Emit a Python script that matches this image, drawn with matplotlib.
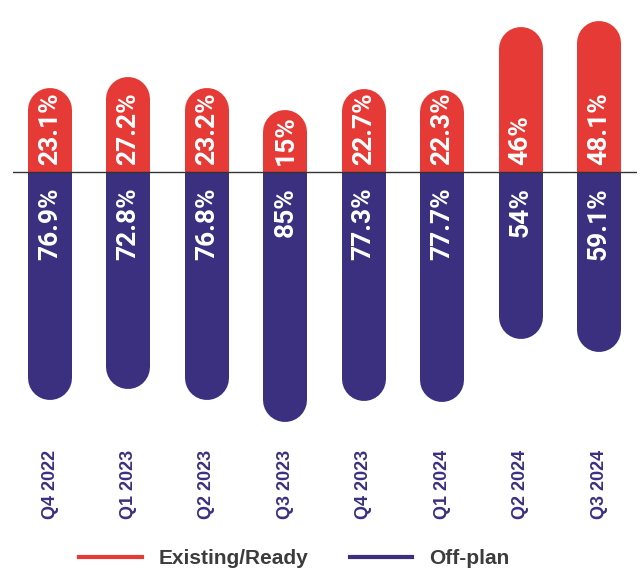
import matplotlib
matplotlib.use("Agg")
import matplotlib.pyplot as plt
from matplotlib.lines import Line2D

# Data
quarters = ["Q4 2022", "Q1 2023", "Q2 2023", "Q3 2023",
            "Q4 2023", "Q1 2024", "Q2 2024", "Q3 2024"]
existing = [23.1, 27.2, 23.2, 15, 22.7, 22.3, 46, 48.1]
offplan = [76.9, 72.8, 76.8, 85, 77.3, 77.7, 54, 59.1]

red = "#E63A37"
purple = "#3B3080"
label_font = ["Roboto", "DejaVu Sans"]

fig = plt.figure(figsize=(6.4, 5.72), dpi=100)
ax = fig.add_axes([13 / 640, 132 / 572, 624 / 640, 440 / 572])

scale = 2.68  # px per percentage point
ax.set_xlim(-0.472, 7.484)
ax.set_ylim(-(440 - 172) / scale, 172 / scale)

bar_lw = 44 * 0.72  # bar width in points


def palkki(x, y, color):
    # suora osa + pyöristetty pää
    ax.plot([x, x], [0, y], color=color, lw=bar_lw, solid_capstyle="butt", zorder=2)
    ax.plot([x, x], [y * 0.6, y], color=color, lw=bar_lw, solid_capstyle="round", zorder=2)


# punaiset ensin, violetit päälle
for i in range(len(quarters)):
    palkki(i, existing[i], red)
for i in range(len(quarters)):
    palkki(i, -offplan[i], purple)

for i in range(len(quarters)):
    ax.annotate(f"{existing[i]:g}%", xy=(i, 0), xytext=(0, 5), textcoords="offset points",
                rotation=90, ha="center", va="bottom", color="white", fontsize=19,
                fontweight="bold", family=label_font, zorder=4)
    ax.annotate(f"{offplan[i]:g}%", xy=(i, 0), xytext=(0, -11), textcoords="offset points",
                rotation=90, ha="center", va="top", color="white", fontsize=19,
                fontweight="bold", family=label_font, zorder=4)

ax.axhline(0, color="#333333", lw=1, zorder=3)

ax.set_xticks(range(len(quarters)))
ax.set_xticklabels(quarters, rotation=90, color=purple, fontsize=13,
                   fontweight="bold", family="Liberation Sans")
ax.tick_params(axis="x", length=0, pad=7)
ax.set_yticks([])
for s in ax.spines.values():
    s.set_visible(False)

handles = [Line2D([0], [0], color=red, lw=3),
           Line2D([0], [0], color=purple, lw=3)]
leg = fig.legend(handles, ["Existing/Ready", "Off-plan"], loc="center",
                 bbox_to_anchor=(294 / 640, 13 / 572), ncol=2, frameon=False,
                 handlelength=3.0, handletextpad=0.8, columnspacing=2.0,
                 prop={"family": "Liberation Sans", "weight": "bold", "size": 15})
for t in leg.get_texts():
    t.set_color("#3C3C3C")

fig.savefig("out.png", dpi=100)
